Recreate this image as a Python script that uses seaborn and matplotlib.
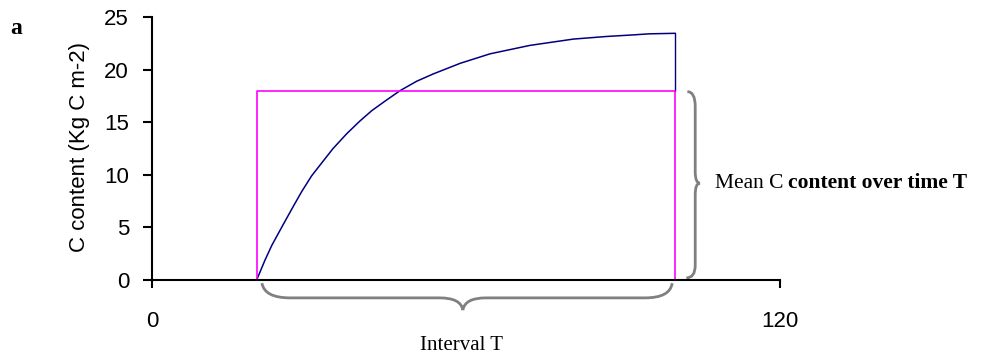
import numpy as np
import pandas as pd
import matplotlib
matplotlib.use("Agg")
import matplotlib.pyplot as plt
from matplotlib.path import Path
from matplotlib.patches import PathPatch
import seaborn as sns

# ---- data ----
time_x = [20.0, 21.6, 22.9, 25.1, 27.0, 28.6, 30.5, 32.7, 34.6, 37.2, 39.7, 42.0,
          44.8, 47.4, 50.6, 53.8, 58.9, 64.6, 72.2, 80.5, 86.9, 92.0, 95.0, 100.0]
c_content = [0.0, 1.9, 3.3, 5.3, 7.0, 8.4, 9.9, 11.3, 12.5, 13.9, 15.1, 16.1,
             17.1, 18.0, 18.9, 19.6, 20.6, 21.5, 22.3, 22.9, 23.15, 23.3, 23.4, 23.45]
interval_start = 20
interval_end = 100
mean_c = 18.0
x_ticks = [0, 120]
y_ticks = [0, 5, 10, 15, 20, 25]
ylabel = "C content (Kg C m-2)"

sns.set_style("ticks")
plt.rcParams["font.family"] = ["Liberation Sans", "DejaVu Sans"]

fig = plt.figure(figsize=(9.81, 3.58), dpi=100)
ax = fig.add_axes([152 / 981, 78 / 358, 628 / 981, 263 / 358])

df = pd.DataFrame({"t": time_x, "c": c_content})
sns.lineplot(data=df, x="t", y="c", ax=ax, color="#000080", linewidth=1.1)

# closing vertical of the curve at interval end
ax.plot([interval_end, interval_end], [c_content[-1], mean_c], color="#000080", linewidth=1.0)
# mean rectangle (magenta)
ax.plot([interval_start, interval_start, interval_end, interval_end],
        [0, mean_c, mean_c, 0], color="#FF00FF", linewidth=1.2)

ax.set_xlim(0, 120)
ax.set_ylim(0, 25)
ax.set_xticks(x_ticks)
ax.set_yticks(y_ticks)
ax.set_xticklabels([str(v) for v in x_ticks], fontsize=16)
ax.set_yticklabels([str(v) for v in y_ticks], fontsize=16)
ax.tick_params(axis="y", direction="out", length=6.5, width=1.5, pad=10, colors="black")
ax.tick_params(axis="x", direction="out", length=6, width=1.5, pad=16, colors="black")
for s in ["top", "right"]:
    ax.spines[s].set_visible(False)
for s in ["left", "bottom"]:
    ax.spines[s].set_linewidth(1.5)
    ax.spines[s].set_color("black")
ax.set_xlabel("")
ax.set_ylabel(ylabel, fontsize=16, color="black")
ax.yaxis.set_label_coords(-0.099, 0.504)

# ---- curly braces (annotation) ----
def brace_patch(verts, codes):
    p = PathPatch(Path(verts, codes), facecolor="none", edgecolor="#808080",
                  linewidth=2.0, clip_on=False, transform=ax.transData)
    ax.add_patch(p)

M, C3, L = Path.MOVETO, Path.CURVE3, Path.LINETO
mid = (interval_start + interval_end) / 2 - 0.6
bv = [(21.0, -0.3), (21.5, -1.7), (26.4, -1.7),
      (mid - 4.4, -1.7),
      (mid - 0.4, -1.7), (mid, -2.85),
      (mid + 0.4, -1.7), (mid + 4.4, -1.7),
      (94.2, -1.7),
      (99.0, -1.7), (99.4, -0.3)]
bc = [M, C3, C3, L, C3, C3, C3, C3, L, C3, C3]
brace_patch(bv, bc)

rv = [(102.3, 17.9), (103.8, 17.9), (103.8, 16.5),
      (103.8, 10.3),
      (103.8, 9.2), (104.7, 9.2),
      (103.8, 9.2), (103.8, 8.1),
      (103.8, 1.4),
      (103.8, 0.2), (102.1, 0.2)]
rc = [M, C3, C3, L, C3, C3, C3, C3, L, C3, C3]
brace_patch(rv, rc)

serif = ["Liberation Serif", "DejaVu Serif"]
t1 = ax.text(107.5, 9.2, "Mean C ", fontsize=15.5, family=serif, ha="left", va="center",
             clip_on=False, color="black")
ax.annotate("content over time T", xy=(1, 0), xycoords=t1, ha="left", va="bottom",
            fontsize=15.5, family=serif, fontweight="bold", color="black")

fig.text(462 / 981, 1 - 346 / 358, "Interval T", fontsize=15, family=serif,
         ha="center", va="center", color="black")
fig.text(10 / 981, 1 - 29 / 358, "a", fontsize=17, family=serif, fontweight="bold",
         ha="left", va="center", color="black")

fig.savefig("out.png", dpi=100)
